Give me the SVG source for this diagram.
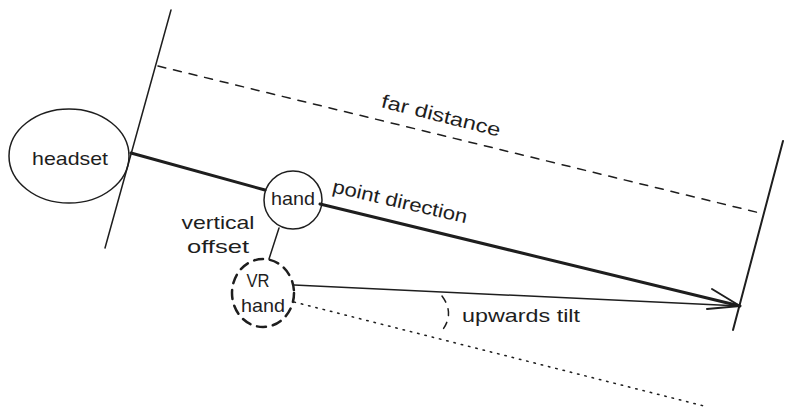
<svg xmlns="http://www.w3.org/2000/svg" width="793" height="417" viewBox="0 0 793 417">
<style>
  .ln { stroke:#1e1e1e; fill:none; stroke-linecap:round; stroke-linejoin:round; }
  .t { font-family:"Liberation Sans", Arial, sans-serif; font-size:19px; fill:#1e1e1e; }
</style>
<rect width="793" height="417" fill="#ffffff"/>
<g id="connectors">
  <line class="ln" x1="171" y1="10" x2="105" y2="248" stroke-width="1.5"/>
  <line class="ln" x1="783" y1="141" x2="733" y2="330" stroke-width="2"/>
  <line class="ln" x1="158" y1="66" x2="760" y2="213" stroke-width="1.5" stroke-dasharray="8 8"/>
  <line class="ln" x1="131" y1="153" x2="265" y2="190" stroke-width="3"/>
  <line class="ln" x1="320" y1="204" x2="740" y2="306" stroke-width="3"/>
  <line class="ln" x1="279" y1="228" x2="269" y2="259" stroke-width="1.5"/>
  <line class="ln" x1="294" y1="285" x2="740" y2="306" stroke-width="1.5"/>
  <polyline class="ln" points="712,289 740,306 707,309" stroke-width="2"/>
  <line class="ln" x1="294" y1="302" x2="708" y2="407" stroke-width="1.5" stroke-dasharray="1.5 6"/>
  <path class="ln" d="M442,296 Q456,315 440,333" stroke-width="1.5" stroke-dasharray="7 7"/>
</g>
<g id="headset">
  <ellipse class="ln" cx="69" cy="156" rx="60" ry="47" stroke-width="1.5"/>
  <text class="t" x="70" y="165" text-anchor="middle" textLength="76" lengthAdjust="spacingAndGlyphs">headset</text>
</g>
<g id="hand">
  <ellipse class="ln" cx="293" cy="200" rx="29" ry="29" stroke-width="1.5"/>
  <text class="t" x="293" y="205" text-anchor="middle" textLength="44" lengthAdjust="spacingAndGlyphs">hand</text>
</g>
<g id="vr-hand">
  <ellipse class="ln" cx="263" cy="293" rx="31" ry="34" stroke-width="2.5" stroke-dasharray="9 7"/>
  <text class="t" x="258" y="287" text-anchor="middle" textLength="23" lengthAdjust="spacingAndGlyphs">VR</text>
  <text class="t" x="263" y="312" text-anchor="middle" textLength="44" lengthAdjust="spacingAndGlyphs">hand</text>
</g>
<g id="labels">
  <text class="t" x="218" y="229" text-anchor="middle" textLength="73" lengthAdjust="spacingAndGlyphs">vertical</text>
  <text class="t" x="218" y="253" text-anchor="middle" textLength="62" lengthAdjust="spacingAndGlyphs">offset</text>
  <text class="t" x="462" y="322" textLength="118" lengthAdjust="spacingAndGlyphs">upwards tilt</text>
  <text class="t" x="441" y="122" text-anchor="middle" transform="rotate(14 441 116)" textLength="122" lengthAdjust="spacingAndGlyphs">far distance</text>
  <text class="t" x="400" y="208" text-anchor="middle" transform="rotate(13 400 202)" textLength="138" lengthAdjust="spacingAndGlyphs">point direction</text>
</g>
</svg>
